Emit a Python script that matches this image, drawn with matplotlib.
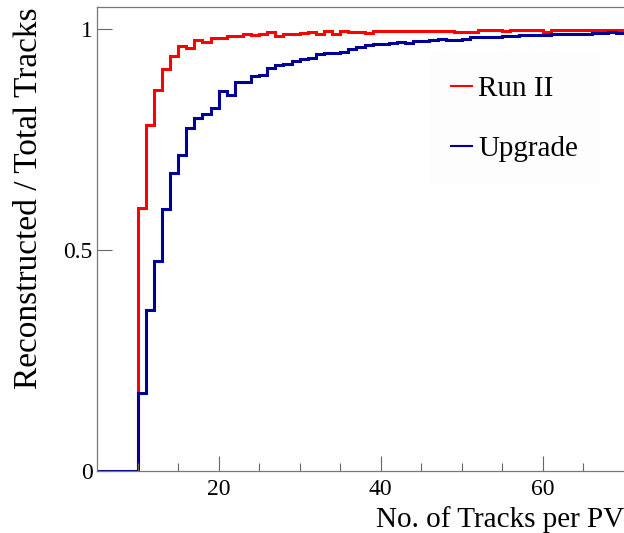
import matplotlib
matplotlib.use("Agg")
import matplotlib.pyplot as plt
import numpy as np
from matplotlib.lines import Line2D

plt.rcParams['font.family'] = ['Liberation Serif', 'DejaVu Serif']

# bin edges: unit-width bins in number of tracks per PV
edges = np.arange(5, 71)

# fraction of reconstructed tracks per bin (bins 5..69)
run2 = [0, 0, 0, 0, 0,
        0.595, 0.783, 0.862, 0.909, 0.939, 0.962, 0.958, 0.975, 0.970, 0.980,
        0.980, 0.984, 0.984, 0.990, 0.987, 0.988, 0.993, 0.985, 0.990, 0.990,
        0.991, 0.994, 0.989, 0.996, 0.990, 0.996, 0.994, 0.994, 0.992, 0.995,
        0.995, 0.996, 0.995, 0.996, 0.995, 0.996, 0.996, 0.995, 0.995, 0.993,
        0.993, 0.993, 0.999, 0.999, 0.999, 0.995, 0.999, 0.999, 0.999, 0.999,
        0.994, 0.999, 0.999, 0.999, 0.999, 0.999, 0.999, 0.999, 0.999, 0.999]

upgrade = [0, 0, 0, 0, 0,
           0.176, 0.364, 0.475, 0.593, 0.674, 0.715, 0.776, 0.798, 0.808, 0.821,
           0.860, 0.851, 0.880, 0.880, 0.894, 0.897, 0.911, 0.918, 0.922, 0.928,
           0.932, 0.934, 0.943, 0.946, 0.945, 0.948, 0.954, 0.960, 0.964, 0.966,
           0.966, 0.969, 0.971, 0.969, 0.973, 0.973, 0.976, 0.978, 0.976, 0.975,
           0.977, 0.981, 0.982, 0.983, 0.983, 0.984, 0.985, 0.986, 0.986, 0.987,
           0.987, 0.988, 0.989, 0.990, 0.990, 0.990, 0.991, 0.992, 0.993, 0.991]

labels = ["Run II", "Upgrade"]
red = "#ff0000"
navy = "#000099"

fig = plt.figure(figsize=(6.24, 5.33), dpi=100)
ax = fig.add_axes([97 / 624, 62 / 533, 527 / 624, 464 / 533])

ax.stairs(run2, edges, color=red, lw=2.2, baseline=None)
ax.stairs(upgrade, edges, color=navy, lw=2.2, baseline=None)

ax.set_xlim(5, 70)
ax.set_ylim(0, 1.05)

ax.set_xticks([20, 40, 60])
ax.set_xticks(np.arange(10, 70, 5), minor=True)
ax.set_yticks([0, 0.5, 1])
ax.set_yticklabels(["0", "0.5", "1"])
ax.tick_params(which='both', direction='in', colors='#666666',
               labelcolor='black', labelsize=17, width=0.8)
ax.tick_params(which='major', length=11)
ax.tick_params(which='minor', length=6)
ax.tick_params(axis='x', pad=6)
ax.tick_params(axis='y', pad=3)

for side in ['left', 'bottom', 'top']:
    ax.spines[side].set_color('#777777')
    ax.spines[side].set_linewidth(0.9)
ax.spines['right'].set_visible(False)

ax.set_xlabel("No. of Tracks per PV", fontsize=21, loc='right', labelpad=4)
ax.set_ylabel("Reconstructed / Total Tracks", fontsize=24, loc='top',
              labelpad=14)

handles = [Line2D([], [], color=red, lw=1.5),
           Line2D([], [], color=navy, lw=1.5)]
leg = ax.legend(handles, labels, loc='upper left',
                bbox_to_anchor=(429 / 624, 1 - 54 / 533),
                bbox_transform=fig.transFigure, fontsize=21,
                handlelength=0.75, handletextpad=0.2, labelspacing=1.15,
                borderaxespad=0, borderpad=0.74, frameon=True,
                fancybox=False)
leg.get_frame().set_facecolor('#fdfdfd')
leg.get_frame().set_edgecolor('none')

fig.savefig("out.png", dpi=100)
